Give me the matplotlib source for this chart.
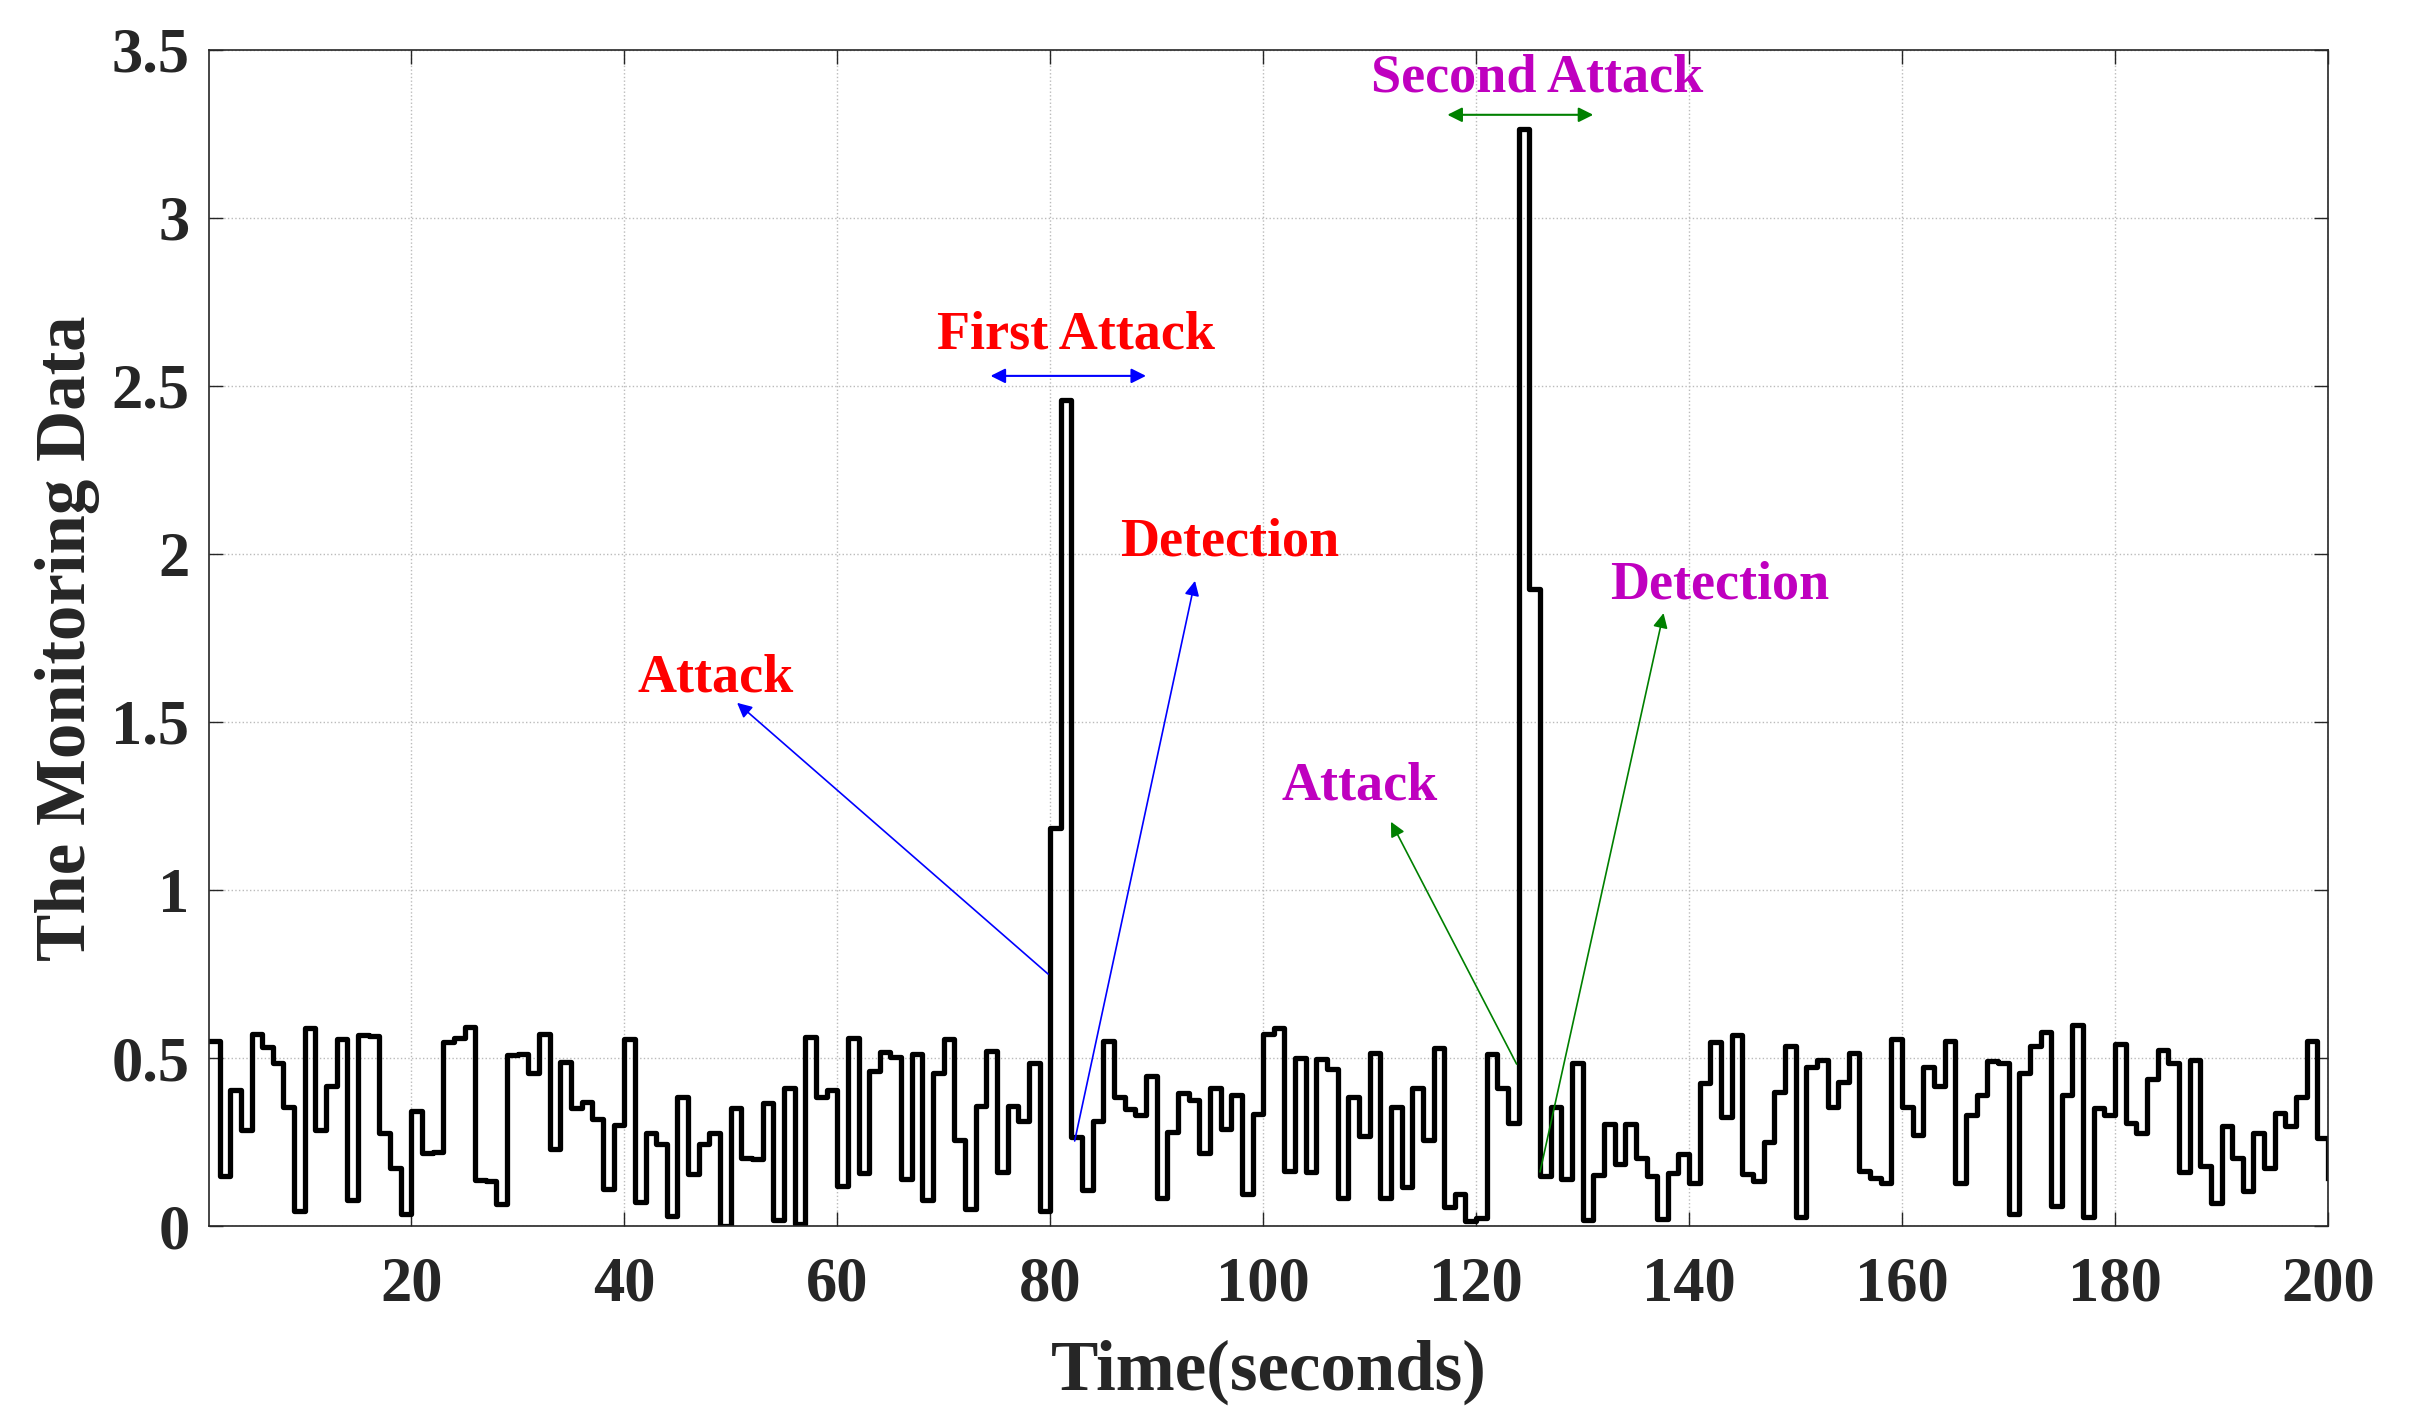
import matplotlib
matplotlib.use('Agg')
import matplotlib.pyplot as plt
import numpy as np
from matplotlib.ticker import FormatStrFormatter

plt.rcParams['font.family'] = ['Liberation Serif', 'DejaVu Serif']
plt.rcParams['font.weight'] = 'bold'

# monitoring data, one value per second
t = np.arange(1, 201)
y = [0.55, 0.149, 0.405, 0.286, 0.571, 0.534, 0.484, 0.355, 0.045, 0.589,
     0.286, 0.417, 0.556, 0.077, 0.569, 0.565, 0.276, 0.174, 0.035, 0.342,
     0.216, 0.221, 0.549, 0.559, 0.591, 0.137, 0.134, 0.067, 0.509, 0.512,
     0.454, 0.571, 0.228, 0.489, 0.350, 0.368, 0.318, 0.110, 0.301, 0.556,
     0.072, 0.276, 0.244, 0.031, 0.383, 0.155, 0.243, 0.276, 0.001, 0.350,
     0.201, 0.200, 0.365, 0.018, 0.410, 0.006, 0.563, 0.385, 0.405, 0.120,
     0.561, 0.157, 0.462, 0.517, 0.502, 0.140, 0.512, 0.077, 0.456, 0.556,
     0.256, 0.051, 0.358, 0.522, 0.160, 0.358, 0.313, 0.486, 0.045, 1.185,
     2.457, 0.266, 0.107, 0.313, 0.551, 0.383, 0.348, 0.330, 0.446, 0.084,
     0.281, 0.397, 0.375, 0.216, 0.410, 0.288, 0.390, 0.094, 0.333, 0.570,
     0.588, 0.165, 0.501, 0.160, 0.496, 0.467, 0.082, 0.383, 0.268, 0.514,
     0.084, 0.355, 0.117, 0.410, 0.256, 0.531, 0.058, 0.094, 0.016, 0.023,
     0.511, 0.410, 0.308, 3.266, 1.897, 0.149, 0.355, 0.139, 0.484, 0.018,
     0.152, 0.304, 0.185, 0.304, 0.201, 0.150, 0.020, 0.159, 0.214, 0.129,
     0.425, 0.549, 0.325, 0.568, 0.155, 0.135, 0.249, 0.400, 0.536, 0.028,
     0.474, 0.494, 0.353, 0.430, 0.514, 0.164, 0.142, 0.127, 0.556, 0.355,
     0.271, 0.474, 0.417, 0.552, 0.127, 0.330, 0.390, 0.491, 0.486, 0.035,
     0.456, 0.536, 0.578, 0.060, 0.390, 0.598, 0.026, 0.350, 0.330, 0.541,
     0.308, 0.278, 0.437, 0.524, 0.484, 0.160, 0.494, 0.180, 0.069, 0.298,
     0.203, 0.104, 0.278, 0.172, 0.335, 0.298, 0.383, 0.551, 0.261, 0.142]

xticks = [20, 40, 60, 80, 100, 120, 140, 160, 180, 200]
yticks = [0, 0.5, 1, 1.5, 2, 2.5, 3, 3.5]

fig = plt.figure(figsize=(24.21, 14.19), dpi=100)
ax = fig.add_axes([0.0863, 0.136, 0.8753, 0.8288])

ax.step(t, y, where='post', color='black', lw=3.8)

ax.set_xlim(1, 200)
ax.set_ylim(0, 3.5)
ax.set_xticks(xticks)
ax.set_yticks(yticks)
ax.yaxis.set_major_formatter(FormatStrFormatter('%g'))
ax.tick_params(direction='in', length=10, width=1, labelsize=45,
               top=True, right=True, colors='#262626')
ax.tick_params(axis='x', pad=22)
ax.tick_params(axis='y', pad=14)
ax.grid(True, color='#bbbbbb', linestyle=':', lw=1)
for s in ax.spines.values():
    s.set_color('#262626')
    s.set_linewidth(1.2)

ax.set_xlabel('Time(seconds)', fontsize=51, fontweight='bold', labelpad=18,
              color='#262626')
ax.set_ylabel('The Monitoring Data', fontsize=51, fontweight='bold',
              labelpad=8, color='#262626')

red = '#ff0000'
mag = '#bf00bf'
blue = '#0000ff'
green = '#008000'
tfs = 39

# first attack
ax.text(82.4, 2.65, 'First Attack', color=red, fontsize=tfs, ha='center', va='center')
ax.annotate('', xy=(89.0, 2.53), xytext=(74.4, 2.53),
            arrowprops=dict(arrowstyle='<|-|>', color=blue, lw=1.5,
                            mutation_scale=22, shrinkA=0, shrinkB=0))
ax.text(48.6, 1.63, 'Attack', color=red, fontsize=tfs, ha='center', va='center')
ax.annotate('', xy=(50.6, 1.557), xytext=(79.8, 0.75),
            arrowprops=dict(arrowstyle='-|>', color=blue, lw=1.2,
                            mutation_scale=22, shrinkA=0, shrinkB=0))
ax.text(96.9, 2.035, 'Detection', color=red, fontsize=tfs, ha='center', va='center')
ax.annotate('', xy=(93.6, 1.92), xytext=(82.3, 0.253),
            arrowprops=dict(arrowstyle='-|>', color=blue, lw=1.2,
                            mutation_scale=22, shrinkA=0, shrinkB=0))

# second attack
ax.text(125.7, 3.415, 'Second Attack', color=mag, fontsize=tfs, ha='center', va='center')
ax.annotate('', xy=(131.0, 3.307), xytext=(117.3, 3.307),
            arrowprops=dict(arrowstyle='<|-|>', color=green, lw=1.5,
                            mutation_scale=22, shrinkA=0, shrinkB=0))
ax.text(109.1, 1.308, 'Attack', color=mag, fontsize=tfs, ha='center', va='center')
ax.annotate('', xy=(112.0, 1.203), xytext=(123.8, 0.482),
            arrowprops=dict(arrowstyle='-|>', color=green, lw=1.2,
                            mutation_scale=22, shrinkA=0, shrinkB=0))
ax.text(142.9, 1.905, 'Detection', color=mag, fontsize=tfs, ha='center', va='center')
ax.annotate('', xy=(137.6, 1.824), xytext=(126.0, 0.161),
            arrowprops=dict(arrowstyle='-|>', color=green, lw=1.2,
                            mutation_scale=22, shrinkA=0, shrinkB=0))

fig.savefig('out.png', dpi=100)
